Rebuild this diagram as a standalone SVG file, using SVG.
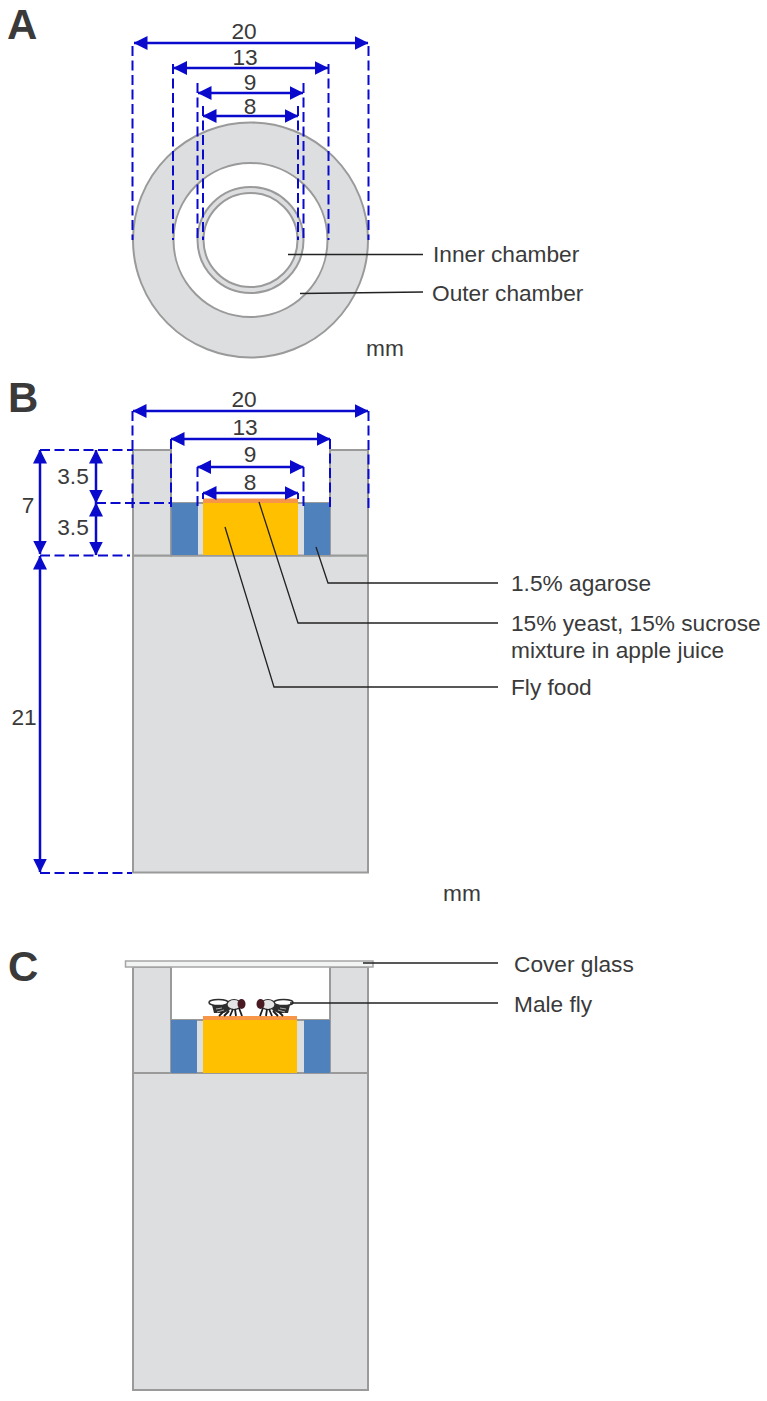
<svg xmlns="http://www.w3.org/2000/svg" width="767" height="1401" viewBox="0 0 767 1401">
<style>
text{font-family:"Liberation Sans",Arial,sans-serif;fill:#3a3a3a}
.t{font-size:22.7px}
.c{text-anchor:middle}
.h{font-size:42px;font-weight:bold}
.g{fill:#dcdee0;stroke:#9a9a9a;stroke-width:2}
.w{fill:#fff;stroke:#9a9a9a;stroke-width:2}
.bl{fill:#4f81bd}
.fo{fill:#ffc000}
.or{fill:#f79646}
.d{fill:none;stroke:#0a0acd;stroke-width:2;stroke-dasharray:10 4.500}
.a{fill:none;stroke:#0a0acd;stroke-width:2.500;marker-start:url(#m);marker-end:url(#m)}
.l{fill:none;stroke:#222;stroke-width:1.300}
</style>
<defs>
<marker id="m" viewBox="0 0 14 14" refX="13.500" refY="7" markerWidth="14" markerHeight="14" markerUnits="userSpaceOnUse" orient="auto-start-reverse"><path d="M0 0L14 7L0 14Z" fill="#0a0acd"/></marker>
<g id="fly">
<path d="M-18-4L-2-5L0 1L-6 4L-16 4Z" fill="#2e2e2e"/>
<path d="M-14 0L-8-1M-13 3L-6 1" stroke="#aaa" stroke-width="1" fill="none"/>
<ellipse cx="-11.500" cy="-6.500" rx="9.500" ry="3" fill="#fff" stroke="#2e2e2e" stroke-width="1.500"/>
<ellipse cx="4" cy="-4.500" rx="7" ry="5" fill="#e4e4e4" stroke="#2e2e2e" stroke-width="1.200"/>
<ellipse cx="11.500" cy="-5" rx="4" ry="5" fill="#4a1a22"/>
<path d="M-7 3L-11 7M-1 2L-6 7M3 0L0 7M9-1L12 7M5 0L6 7" stroke="#1c1c1c" stroke-width="1.800" fill="none"/>
</g>
</defs>
<g id="panel-a">
<text class="h" x="7" y="39">A</text>
<circle class="g" cx="250.500" cy="240" r="117.500"/>
<circle class="w" cx="250.500" cy="240" r="77"/>
<circle class="g" cx="250.500" cy="240" r="53"/>
<circle class="w" cx="250.500" cy="240" r="47"/>
<text class="t" x="433" y="262">Inner chamber</text>
<text class="t" x="432" y="301">Outer chamber</text>
<text class="t" x="366" y="356">mm</text>
</g>
<g id="panel-b">
<text class="h" x="8" y="412">B</text>
<rect class="g" x="133" y="555.500" width="235" height="317"/>
<rect class="g" x="133" y="450" width="38" height="105.500"/>
<rect class="g" x="330" y="450" width="38" height="105.500"/>
<rect class="g" x="171" y="503" width="159" height="52.500" stroke="none"/>
<rect class="bl" x="171.500" y="503" width="26.500" height="52"/>
<rect class="bl" x="304" y="503" width="26" height="52"/>
<rect class="fo" x="203" y="503" width="95" height="52"/>
<rect class="or" x="203" y="498.500" width="95" height="4.500"/>
<text class="t" x="511" y="591">1.5% agarose</text>
<text class="t" x="511" y="631">15% yeast, 15% sucrose</text>
<text class="t" x="511" y="658">mixture in apple juice</text>
<text class="t" x="511" y="695">Fly food</text>
<text class="t" x="443" y="901">mm</text>
</g>
<g id="panel-c">
<text class="h" x="8" y="981">C</text>
<rect class="g" x="133" y="1073" width="235" height="317"/>
<rect class="g" x="133" y="967" width="38" height="106"/>
<rect class="g" x="330" y="967" width="38" height="106"/>
<rect class="g" x="171" y="1020" width="159" height="53" stroke="none"/>
<rect class="bl" x="171" y="1020" width="26" height="53"/>
<rect class="bl" x="304" y="1020" width="26" height="53"/>
<rect class="fo" x="203" y="1020" width="94" height="53"/>
<rect class="or" x="203" y="1016" width="94" height="4"/>
<rect x="125.500" y="961" width="247.500" height="6" fill="#f2f3f3" stroke="#a5a5a5" stroke-width="1.500"/>
<use href="#fly" x="230" y="1009"/>
<use href="#fly" transform="translate(272 1009) scale(-1 1)"/>
<text class="t" x="514" y="972">Cover glass</text>
<text class="t" x="514" y="1012">Male fly</text>
</g>
<g id="connectors">
<path class="d" d="M132.500 46V240M368.500 46V240M173 64V240M328.500 64V240M197.500 83V240M303.500 83V240M203 106V240M298 106V240"/>
<path class="a" d="M134 43H368"/><path class="a" d="M173.500 68H328"/><path class="a" d="M198 93H303"/><path class="a" d="M203 116H298"/>
<path class="l" d="M288 254.500H423M300 293.500L423 292"/>
<path class="d" d="M132.500 411V509M368.500 411V509M171 439V509M330 439V509M197.500 467V510M303.500 467V510M203 493V499M298 493V499"/>
<path class="d" d="M40 450H133M96 503H171M40 555.500H130M40 873H132"/>
<path class="a" d="M133 411H368"/><path class="a" d="M171 439H330"/><path class="a" d="M197.500 467H303.500"/><path class="a" d="M203 493H298"/>
<path class="a" d="M40 450V554"/><path class="a" d="M40 556V872"/><path class="a" d="M96 450V503"/><path class="a" d="M96 503V555"/>
<path class="l" d="M316 547L328 583H498M259 502L298 623H498M225 527L274 687H498"/>
<path class="l" d="M363 963H498M290 1003H498"/>
</g>
<g id="dimension-labels">
<text class="t c" x="244" y="39">20</text><text class="t c" x="245" y="65">13</text><text class="t c" x="250" y="90">9</text><text class="t c" x="250" y="114">8</text>
<text class="t c" x="244" y="407">20</text><text class="t c" x="245" y="435">13</text><text class="t c" x="250" y="462">9</text><text class="t c" x="250" y="490">8</text>
<text class="t c" x="73" y="484">3.5</text><text class="t c" x="73" y="535">3.5</text><text class="t c" x="28" y="513">7</text><text class="t c" x="24" y="725">21</text>
</g>
</svg>
